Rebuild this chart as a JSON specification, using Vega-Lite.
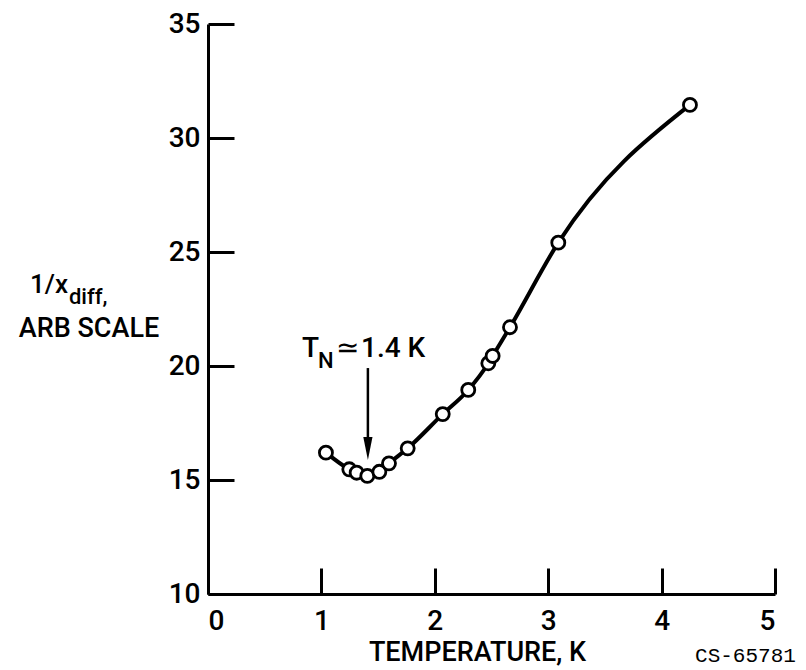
{
  "$schema": "https://vega.github.io/schema/vega-lite/v6.json",
  "width": 567,
  "height": 570,
  "autosize": {"type": "none"},
  "padding": {"left": 208, "top": 24, "right": 31, "bottom": 76},
  "background": "white",
  "config": {
    "view": {"stroke": null},
    "font": "Roboto, Liberation Sans, sans-serif"
  },
  "datasets": {
    "pts": [
      {"t": 1.04, "v": 16.2},
      {"t": 1.246, "v": 15.47},
      {"t": 1.311, "v": 15.32},
      {"t": 1.405, "v": 15.18},
      {"t": 1.511, "v": 15.36},
      {"t": 1.596, "v": 15.73},
      {"t": 1.761, "v": 16.39},
      {"t": 2.07, "v": 17.89},
      {"t": 2.295, "v": 18.95},
      {"t": 2.472, "v": 20.12},
      {"t": 2.51, "v": 20.44},
      {"t": 2.663, "v": 21.7},
      {"t": 3.089, "v": 25.41},
      {"t": 4.25, "v": 31.45}
    ]
  },
  "layer": [
    {
      "data": {"name": "pts"},
      "mark": {"type": "line", "interpolate": "monotone", "color": "black", "strokeWidth": 4},
      "encoding": {
        "x": {
          "field": "t", "type": "quantitative",
          "scale": {"domain": [0, 5], "nice": false, "zero": false},
          "axis": {
            "values": [0, 1, 2, 3, 4, 5],
            "format": "d",
            "grid": false,
            "domainColor": "black", "domainWidth": 3,
            "tickColor": "black", "tickWidth": 3, "tickSize": -26,
            "labelFontSize": 28, "labelColor": "black", "labelPadding": 39,
            "labelFont": "Roboto, Liberation Sans, sans-serif", "labelFontWeight": 500,
            "labelBaseline": "top",
            "title": "TEMPERATURE, K",
            "titleFontSize": 27, "titleFontWeight": 500, "titleColor": "black",
            "titleFont": "Roboto, Liberation Sans, sans-serif",
            "titleX": 269, "titleY": 45, "titleBaseline": "top", "titleAlign": "center"
          }
        },
        "y": {
          "field": "v", "type": "quantitative",
          "scale": {"domain": [10, 35], "nice": false, "zero": false},
          "axis": {
            "values": [10, 15, 20, 25, 30, 35],
            "format": "d",
            "grid": false,
            "domainColor": "black", "domainWidth": 3,
            "tickColor": "black", "tickWidth": 3, "tickSize": -26,
            "labelFontSize": 28, "labelColor": "black", "labelPadding": 34,
            "labelFont": "Roboto, Liberation Sans, sans-serif", "labelFontWeight": 500,
            "title": null
          }
        }
      }
    },
    {
      "data": {"name": "pts"},
      "mark": {"type": "point", "shape": "circle", "filled": false, "fill": "white", "fillOpacity": 1, "stroke": "black", "strokeWidth": 2.8, "size": 170, "opacity": 1},
      "encoding": {
        "x": {"field": "t", "type": "quantitative"},
        "y": {"field": "v", "type": "quantitative"}
      }
    },
    {
      "data": {"values": [{"t": 1.41, "v": 19.91, "v2": 16.7}]},
      "mark": {"type": "rule", "color": "black", "strokeWidth": 2.5},
      "encoding": {
        "x": {"field": "t", "type": "quantitative"},
        "y": {"field": "v", "type": "quantitative"},
        "y2": {"field": "v2"}
      }
    },
    {
      "data": {"values": [{"t": 1.41, "v": 16.38}]},
      "mark": {"type": "point", "shape": "M -0.4 -1 L 0.4 -1 L 0 1 Z", "filled": true, "color": "black", "size": 529, "opacity": 1},
      "encoding": {
        "x": {"field": "t", "type": "quantitative"},
        "y": {"field": "v", "type": "quantitative"}
      }
    },
    {
      "data": {"values": [{"t": 0.829, "v": 20.39, "label": "T"}, {"t": 1.129, "v": 20.39, "label": "≃"}, {"t": 1.349, "v": 20.39, "label": "1.4 K"}]},
      "mark": {"type": "text", "align": "left", "baseline": "alphabetic", "fontSize": 28, "fontWeight": 500, "color": "black"},
      "encoding": {
        "x": {"field": "t", "type": "quantitative"},
        "y": {"field": "v", "type": "quantitative"},
        "text": {"field": "label"}
      }
    },
    {
      "data": {"values": [{"t": 0.97, "v": 19.91, "label": "N"}]},
      "mark": {"type": "text", "align": "left", "baseline": "alphabetic", "fontSize": 22, "fontWeight": 500, "color": "black"},
      "encoding": {
        "x": {"field": "t", "type": "quantitative"},
        "y": {"field": "v", "type": "quantitative"},
        "text": {"field": "label"}
      }
    },
    {
      "data": {"values": [{"t": -1.57, "v": 23.2, "label": "1/x"}]},
      "mark": {"type": "text", "align": "left", "baseline": "alphabetic", "fontSize": 26, "fontWeight": 500, "color": "black"},
      "encoding": {
        "x": {"field": "t", "type": "quantitative"},
        "y": {"field": "v", "type": "quantitative"},
        "text": {"field": "label"}
      }
    },
    {
      "data": {"values": [{"t": -1.226, "v": 22.72, "label": "diff,"}]},
      "mark": {"type": "text", "align": "left", "baseline": "alphabetic", "fontSize": 22, "fontWeight": 500, "color": "black"},
      "encoding": {
        "x": {"field": "t", "type": "quantitative"},
        "y": {"field": "v", "type": "quantitative"},
        "text": {"field": "label"}
      }
    },
    {
      "data": {"values": [{"t": -1.049, "v": 21.27, "label": "ARB SCALE"}]},
      "mark": {"type": "text", "align": "center", "baseline": "alphabetic", "fontSize": 27, "fontWeight": 500, "color": "black"},
      "encoding": {
        "x": {"field": "t", "type": "quantitative"},
        "y": {"field": "v", "type": "quantitative"},
        "text": {"field": "label"}
      }
    },
    {
      "data": {"values": [{"t": 4.295, "v": 7.02, "label": "CS-65781"}]},
      "mark": {"type": "text", "align": "left", "baseline": "alphabetic", "fontSize": 21, "color": "black", "font": "Liberation Mono, DejaVu Sans Mono, monospace"},
      "encoding": {
        "x": {"field": "t", "type": "quantitative"},
        "y": {"field": "v", "type": "quantitative"},
        "text": {"field": "label"}
      }
    }
  ]
}
